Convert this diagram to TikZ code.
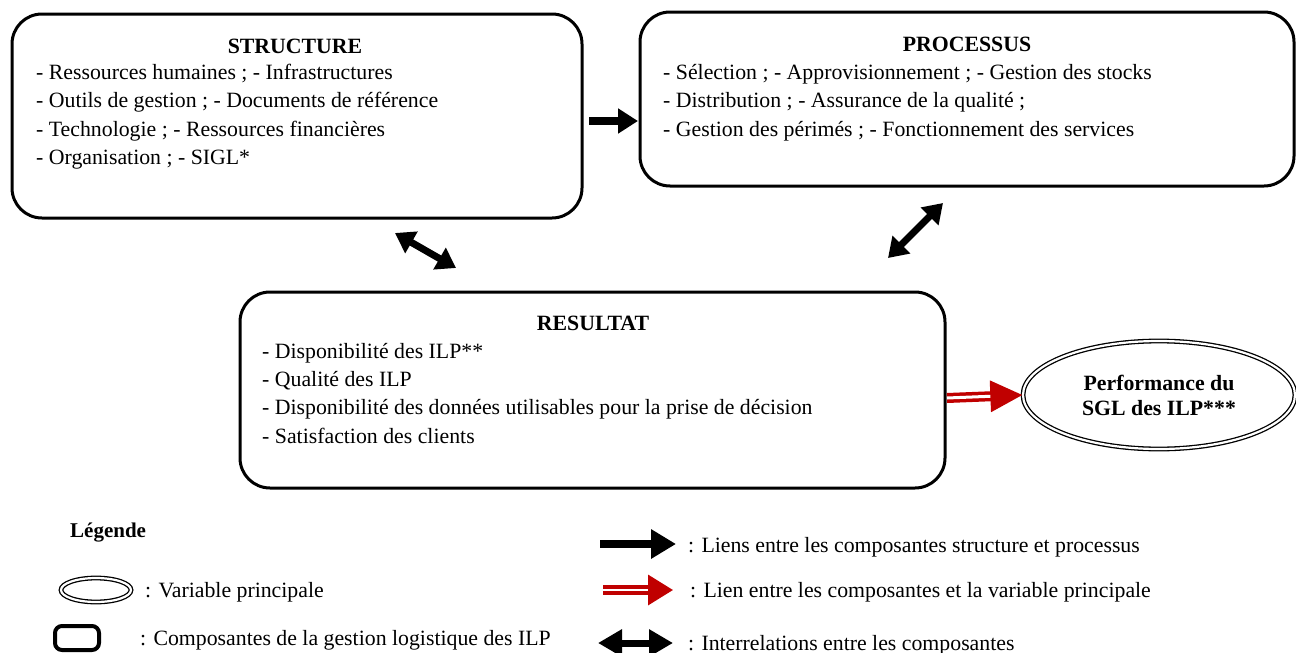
\documentclass[tikz,border=0pt]{standalone}
\usepackage{fontspec}
\setmainfont{Liberation Serif}
\usetikzlibrary{arrows.meta,shapes.geometric}
\definecolor{myred}{RGB}{192,0,0}
\begin{document}
\begin{tikzpicture}[x=1pt,y=-1pt,
  box/.style={draw=black, line width=3pt, rounded corners=30pt, rectangle, inner sep=0pt},
  txt/.style={anchor=base west, inner sep=0pt, font=\fontsize{21.8}{26}\selectfont},
  head/.style={anchor=base, inner sep=0pt, font=\fontsize{21.8}{26}\selectfont\bfseries},
  dblell/.style={ellipse, draw=black, line width=1.3pt, double=white, double distance=2.2pt, inner sep=0pt},
  fatarrow/.style={line width=8pt, -{Triangle[length=20pt,width=24pt]}},
  fatdbl/.style={line width=7pt, {Triangle[length=19pt,width=24pt]}-{Triangle[length=19pt,width=24pt]}},
  redarrow/.style={draw=myred, line width=3.5pt, double=white, double distance=3pt, -{Triangle[length=32pt,width=31pt]}}
]
\useasboundingbox (0,0) rectangle (1296,653);

% boxes
\node[box, minimum width=570pt, minimum height=204pt] (struct) at (297,116) {};
\node[box, minimum width=654pt, minimum height=174pt] (proc) at (967,99) {};
\node[box, minimum width=705pt, minimum height=196pt] (res) at (592.5,390) {};
\node[dblell, minimum width=272pt, minimum height=108pt, align=center,
      font=\fontsize{21.8}{25}\selectfont\bfseries] (perf) at (1159,395) {Performance du\\SGL des ILP***};

% STRUCTURE
\node[head] (sh) at (295,53) {STRUCTURE};
\node[txt] (s1) at (36,79) {- Ressources humaines ; - Infrastructures};
\node[txt] (s2) at (36,107) {- Outils de gestion ; - Documents de référence};
\node[txt] (s3) at (36,136) {- Technologie ; - Ressources financières};
\node[txt] (s4) at (36,164) {- Organisation ; - SIGL*};

% PROCESSUS
\node[head] (ph) at (967,51) {PROCESSUS};
\node[txt] (p1) at (663,79) {- Sélection ; - Approvisionnement ; - Gestion des stocks};
\node[txt] (p2) at (663,107) {- Distribution ; - Assurance de la qualité ;};
\node[txt] (p3) at (663,136) {- Gestion des périmés ; - Fonctionnement des services};

% RESULTAT
\node[head] (rh) at (593,330) {RESULTAT};
\node[txt] (r1) at (262,358) {- Disponibilité des ILP**};
\node[txt] (r2) at (262,386) {- Qualité des ILP};
\node[txt] (r3) at (262,414) {- Disponibilité des données utilisables pour la prise de décision};
\node[txt] (r4) at (262,443) {- Satisfaction des clients};

% connectors
\coordinate (a1s) at (589,121);
\coordinate (a1e) at (638,121);
\draw[fatarrow] (a1s) -- (a1e);
\coordinate (d1s) at (395,233);
\coordinate (d1e) at (456,268);
\draw[fatdbl] (d1s) -- (d1e);
\coordinate (d2s) at (888,258);
\coordinate (d2e) at (943,203);
\draw[fatdbl] (d2s) -- (d2e);
\coordinate (ra) at (947,398);
\draw[redarrow] (ra) -- (perf.west);

% legend
\node[anchor=base west, inner sep=0pt, font=\fontsize{21}{24}\selectfont\bfseries] (leg) at (70,537) {Légende};
\node[dblell, minimum width=70pt, minimum height=24pt] (legell) at (96,590) {};
\node[txt] (l1) at (145,597) {: Variable principale};
\node[box, rounded corners=7pt, line width=4pt, minimum width=44pt, minimum height=24pt] (legbox) at (77,638) {};
\node[txt] (l2) at (140,645) {: Composantes de la gestion logistique des ILP};

\coordinate (la1s) at (600,544);
\coordinate (la1e) at (676,544);
\draw[line width=8pt, -{Triangle[length=25pt,width=28pt]}] (la1s) -- (la1e);
\node[txt] (l3) at (688,552) {: Liens entre les composantes structure et processus};
\coordinate (la2s) at (603,590);
\coordinate (la2e) at (673,590);
\draw[draw=myred, line width=3.5pt, double=white, double distance=2.5pt, -{Triangle[length=25pt,width=30pt]}] (la2s) -- (la2e);
\node[txt] (l4) at (690,597) {: Lien entre les composantes et la variable principale};
\coordinate (la3s) at (598,643);
\coordinate (la3e) at (673,643);
\draw[line width=7pt, {Triangle[length=24pt,width=26pt]}-{Triangle[length=24pt,width=26pt]}] (la3s) -- (la3e);
\node[txt] (l5) at (688,650) {: Interrelations entre les composantes};
\end{tikzpicture}
\end{document}
